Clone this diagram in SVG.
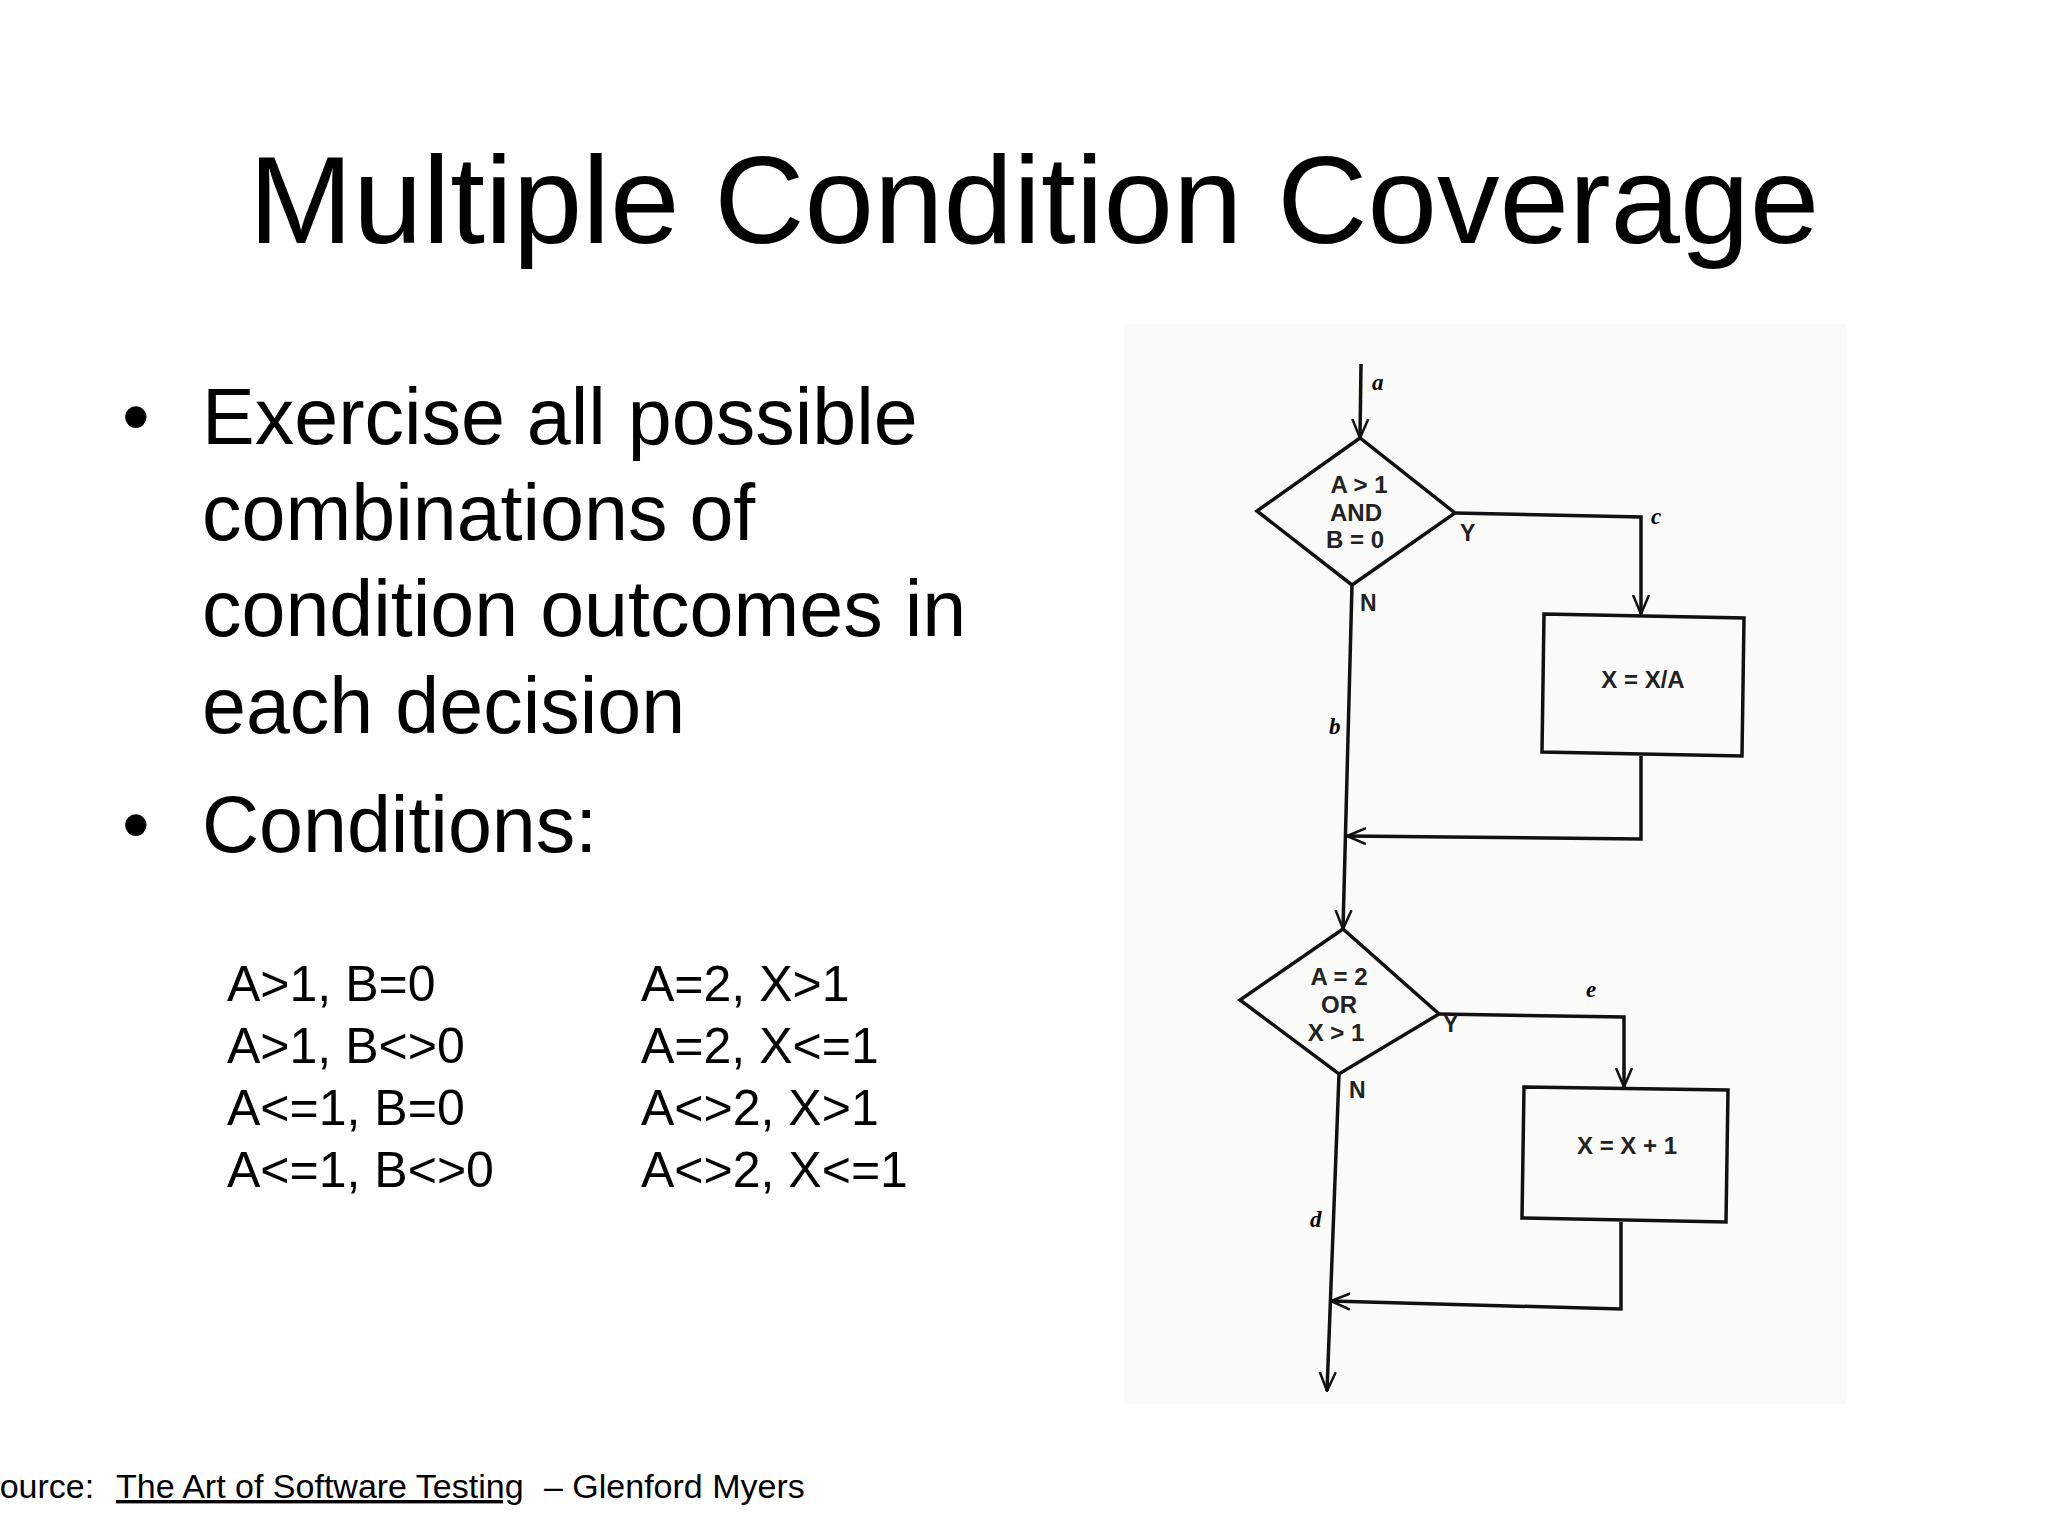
<svg xmlns="http://www.w3.org/2000/svg" width="2048" height="1536" viewBox="0 0 2048 1536">
<defs>
<marker id="ah" viewBox="0 0 20 20" refX="19" refY="10" markerWidth="20" markerHeight="20" markerUnits="userSpaceOnUse" orient="auto">
<path d="M0,2 L19,10 L0,18" fill="none" stroke="#111" stroke-width="2.5"/>
</marker>
</defs>
<style>
text{font-family:"Liberation Sans",Arial,sans-serif;fill:#000}
.sh{fill:none;stroke:#111;stroke-width:3.5}
.ln{fill:none;stroke:#111;stroke-width:3.5}
.ft{font-size:24px;text-anchor:middle;font-weight:bold;fill:#222}
.lb{font-family:"Liberation Serif",serif;font-style:italic;font-weight:bold;font-size:23px}
.yn{font-size:23px;font-weight:bold;fill:#222}
</style>
<rect width="2048" height="1536" fill="#fff"/>
<text x="1034" y="243" font-size="125" text-anchor="middle">Multiple Condition Coverage</text>
<g font-size="79">
<text x="122" y="444">•</text>
<text x="202" y="444">Exercise all possible</text>
<text x="202" y="540">combinations of</text>
<text x="202" y="636">condition outcomes in</text>
<text x="202" y="733">each decision</text>
<text x="122" y="852">•</text>
<text x="202" y="852">Conditions:</text>
</g>
<g font-size="50">
<text x="227" y="1001">A&gt;1, B=0</text>
<text x="227" y="1063">A&gt;1, B&lt;&gt;0</text>
<text x="227" y="1125">A&lt;=1, B=0</text>
<text x="227" y="1187">A&lt;=1, B&lt;&gt;0</text>
<text x="641" y="1001">A=2, X&gt;1</text>
<text x="641" y="1063">A=2, X&lt;=1</text>
<text x="641" y="1125">A&lt;&gt;2, X&gt;1</text>
<text x="641" y="1187">A&lt;&gt;2, X&lt;=1</text>
</g>
<g font-size="34">
<text x="-23" y="1498">Source:</text>
<text x="116" y="1498" text-decoration="underline">The Art of Software Testing</text>
<text x="544" y="1498">– Glenford Myers</text>
</g>
<g transform="translate(-14,-6)">
<rect x="1138" y="330" width="723" height="1080" fill="#fafaf8"/>
<g id="connectors">
<path class="ln" d="M1375,370 L1374,444" marker-end="url(#ah)"/>
<path class="ln" d="M1469,519 L1655,523 L1655,620" marker-end="url(#ah)"/>
<path class="ln" d="M1366,591 L1357,935" marker-end="url(#ah)"/>
<path class="ln" d="M1655,762 L1655,845 L1361,842" marker-end="url(#ah)"/>
<path class="ln" d="M1453,1020 L1638,1023 L1638,1093" marker-end="url(#ah)"/>
<path class="ln" d="M1353,1080 L1341,1397" marker-end="url(#ah)"/>
<path class="ln" d="M1635,1228 L1635,1315 L1345,1307" marker-end="url(#ah)"/>
<text class="lb" x="1386" y="396">a</text>
<text class="lb" x="1343" y="740">b</text>
<text class="lb" x="1665" y="530">c</text>
<text class="lb" x="1324" y="1233">d</text>
<text class="lb" x="1600" y="1003">e</text>
<text class="yn" x="1474" y="547">Y</text>
<text class="yn" x="1374" y="617">N</text>
<text class="yn" x="1457" y="1038">Y</text>
<text class="yn" x="1363" y="1104">N</text>
</g>
<g id="d1">
<polygon class="sh" points="1374,444 1271,517 1366,591 1469,519"/>
<text class="ft" x="1373" y="499">A &gt; 1</text>
<text class="ft" x="1370" y="527">AND</text>
<text class="ft" x="1369" y="554">B = 0</text>
</g>
<g id="b1">
<polygon class="sh" points="1558,620 1758,624 1756,762 1556,758"/>
<text class="ft" x="1657" y="694">X = X/A</text>
</g>
<g id="d2">
<polygon class="sh" points="1357,935 1254,1006 1353,1080 1453,1020"/>
<text class="ft" x="1353" y="991">A = 2</text>
<text class="ft" x="1353" y="1019">OR</text>
<text class="ft" x="1350" y="1047">X &gt; 1</text>
</g>
<g id="b2">
<polygon class="sh" points="1538,1093 1742,1096 1740,1228 1536,1224"/>
<text class="ft" x="1641" y="1160">X = X + 1</text>
</g>
</g>
</svg>
